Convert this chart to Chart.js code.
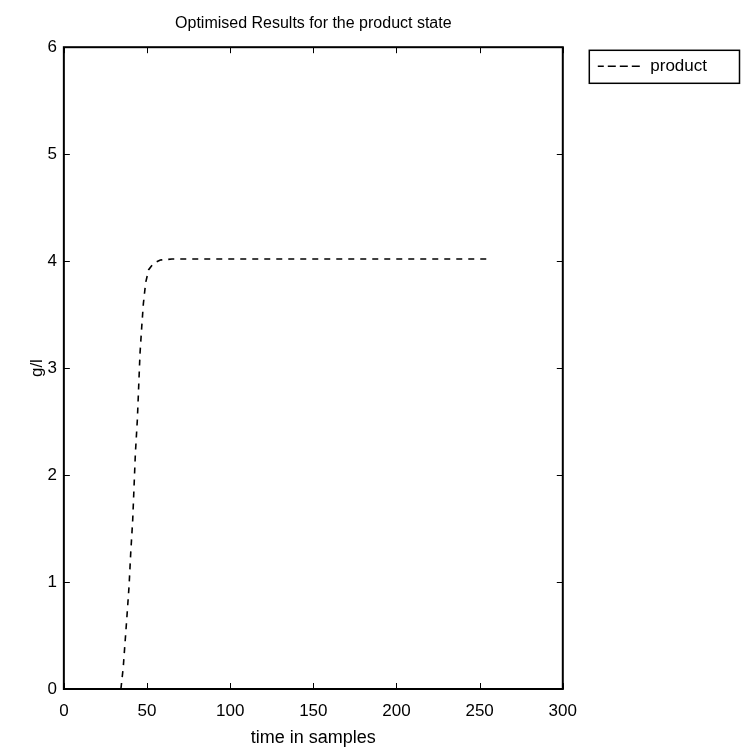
<!DOCTYPE html>
<html><head><meta charset="utf-8">
<script src="https://cdn.jsdelivr.net/npm/chart.js@4"></script>
<style>html,body{margin:0;padding:0;background:#fff}#wrap{width:742px;height:756px}</style>
</head><body><div id="wrap"><canvas id="c" width="742" height="756"></canvas></div>
<script>
const titleText = "Optimised Results for the product state";
const xAxisTitle = "time in samples";
const yAxisTitle = "g/l";
const seriesName = "product";
const xValues = [34.3, 35.7, 37.8, 39.2, 40.2, 41.4, 42.2, 43.0, 44.2, 45.0, 45.8, 46.8, 47.8, 49.2, 51, 54, 58, 65, 100, 150, 200, 255];
const yValues = [0, 0.2, 0.65, 0.96, 1.27, 1.58, 1.89, 2.2, 2.52, 2.83, 3.14, 3.38, 3.6, 3.8, 3.92, 3.98, 4.01, 4.02, 4.02, 4.02, 4.02, 4.02];
const xTicks = [0, 50, 100, 150, 200, 250, 300];
const yTicks = [0, 1, 2, 3, 4, 5, 6];

const FONT = "'Liberation Sans Narrow','Liberation Sans',Arial,sans-serif";

const boxPlugin = {
  id: 'box',
  afterDraw(chart) {
    const {ctx, chartArea: a, scales} = chart;
    ctx.save();
    ctx.strokeStyle = '#000';
    ctx.lineWidth = 2;
    ctx.strokeRect(a.left, a.top, a.right - a.left, a.bottom - a.top);
    ctx.lineWidth = 1;
    const L = 6;
    ctx.beginPath();
    xTicks.forEach(v => {
      const x = Math.round(scales.x.getPixelForValue(v)) + 0.5;
      ctx.moveTo(x, a.bottom); ctx.lineTo(x, a.bottom - L);
      ctx.moveTo(x, a.top); ctx.lineTo(x, a.top + L);
    });
    yTicks.forEach(v => {
      const y = Math.round(scales.y.getPixelForValue(v)) + 0.5;
      ctx.moveTo(a.left, y); ctx.lineTo(a.left + L, y);
      ctx.moveTo(a.right, y); ctx.lineTo(a.right - L, y);
    });
    ctx.stroke();
    const lg = chart.legend;
    if (lg && lg.legendHitBoxes && lg.legendHitBoxes.length) {
      const hb = lg.legendHitBoxes[0];
      const x0 = hb.left - 9, y0 = hb.top - 8;
      ctx.lineWidth = 1.5;
      ctx.strokeRect(x0 + 0.5, y0 + 0.5, chart.width - 3 - x0, hb.height + 16);
    }
    ctx.restore();
  }
};

new Chart(document.getElementById('c'), {
  type: 'line',
  data: {
    datasets: [{
      label: seriesName,
      data: xValues.map((x, i) => ({x: x, y: yValues[i]})),
      borderColor: '#000',
      backgroundColor: 'rgba(0,0,0,0)',
      borderWidth: 1.6,
      borderDash: [6, 6],
      pointRadius: 0,
      tension: 0,
      fill: false
    }]
  },
  options: {
    responsive: false,
    animation: false,
    devicePixelRatio: 1,
    layout: {padding: {top: 0, right: 25, bottom: 3, left: 23}},
    plugins: {
      title: {
        display: true, text: titleText, color: '#000', fullSize: false,
        font: {family: FONT, size: 16, weight: 'normal'},
        padding: {top: 14, bottom: 14}
      },
      legend: {
        display: true, position: 'right', align: 'start',
        title: {display: true, text: ' ', padding: 0, font: {family: FONT, size: 19}},
        labels: {
          color: '#000', usePointStyle: false,
          boxWidth: 44, boxHeight: 0, padding: 35,
          font: {family: FONT, size: 17}
        }
      },
      tooltip: {enabled: false}
    },
    scales: {
      x: {
        type: 'linear', min: 0, max: 300,
        afterBuildTicks: s => { s.ticks = xTicks.map(v => ({value: v})); },
        grid: {display: false, drawTicks: false},
        border: {display: false},
        ticks: {color: '#000', padding: 12, maxRotation: 0, font: {family: FONT, size: 17}},
        title: {display: true, text: xAxisTitle, color: '#000', font: {family: FONT, size: 18}, padding: {top: -6, bottom: 4}}
      },
      y: {
        type: 'linear', min: 0, max: 6,
        afterBuildTicks: s => { s.ticks = yTicks.map(v => ({value: v})); },
        grid: {display: false, drawTicks: false},
        border: {display: false},
        ticks: {color: '#000', padding: 7, font: {family: FONT, size: 17}},
        title: {display: true, text: yAxisTitle, color: '#000', font: {family: FONT, size: 17}, padding: {top: 4, bottom: -7}}
      }
    }
  },
  plugins: [boxPlugin]
});
</script></body></html>
